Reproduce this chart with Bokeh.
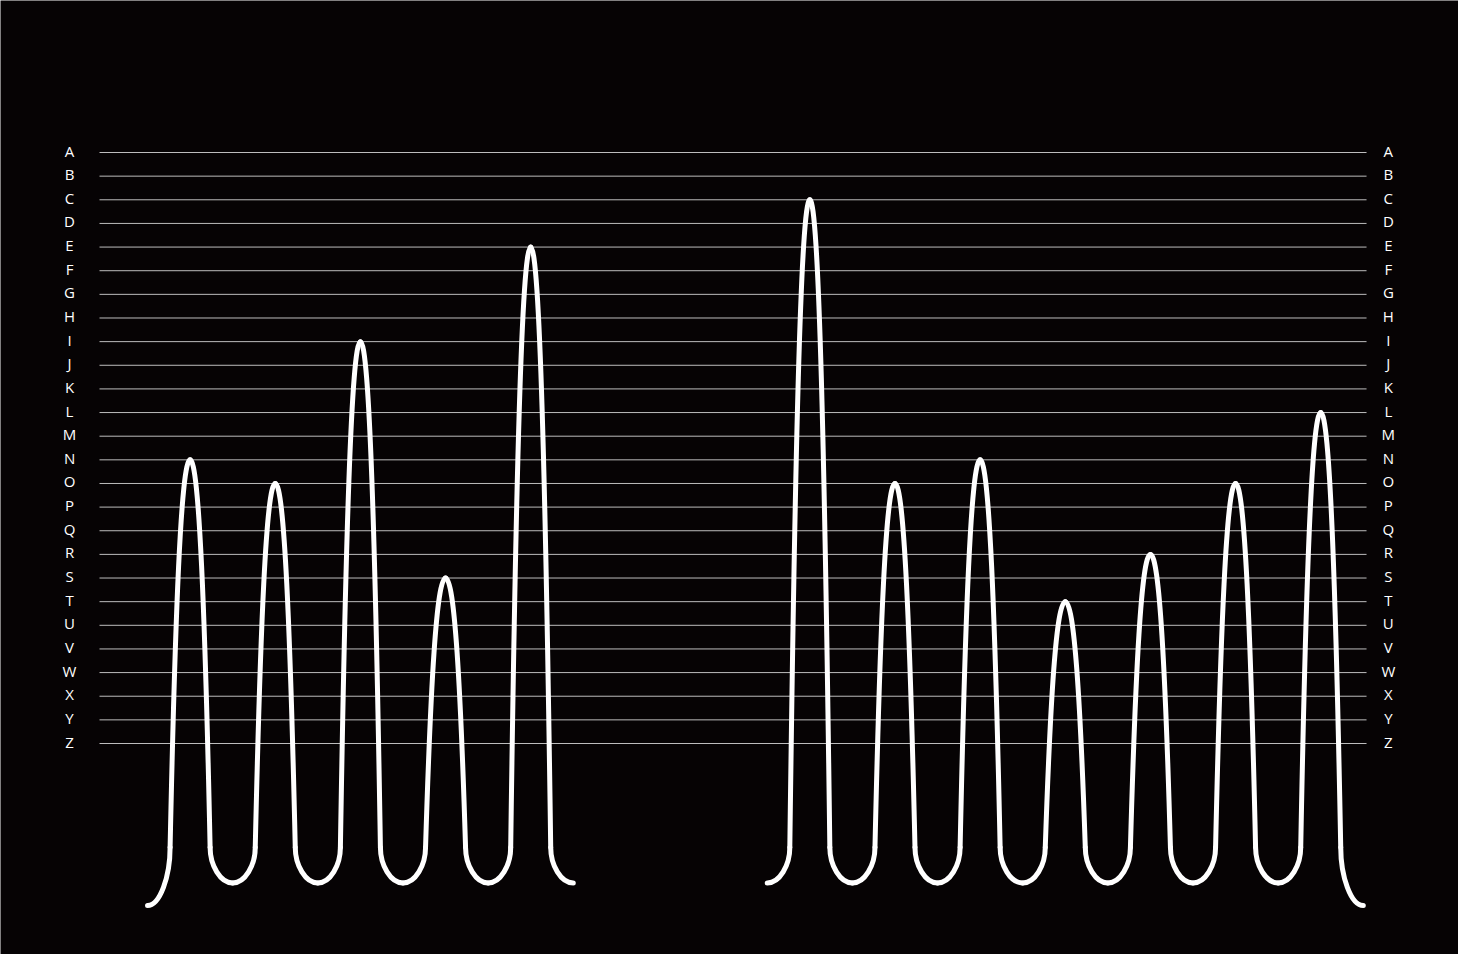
from bokeh.plotting import figure
from bokeh.models import ColumnDataSource, Range1d
from bokeh.core.properties import value
from bokeh.embed import file_html
from bokeh.resources import INLINE

# letters on the scale, A at the top
letters = [chr(ord("A") + i) for i in range(26)]

# each word is drawn as a row of peaks, one peak per letter
word_1 = "NOISE"
word_2 = "CONTROL"

# which end of each word dips below the valleys
word_1_low_end = "left"
word_2_low_end = "right"

# layout (x in letter slots, y in scale steps, A = 0)
word_1_start = 0.0
word_2_start = 7.278
grid_x0, grid_x1 = -1.064, 13.816
label_left_x, label_right_x = -1.416, 14.072

y_side_end = 29.40   # where a flank turns into the valley
y_valley = 30.90
y_low = 31.85

half_w = 0.235       # flank half width where it meets the valley
c1_dx, c2_dx, c2_s = 0.106, 0.176, 0.4
k1, k2 = 0.5, 0.55

bg = "#060304"


def word_segments(word, x_start, low_end):
    seg = dict(x0=[], y0=[], x1=[], y1=[], cx0=[], cy0=[], cx1=[], cy1=[])

    def add(a, b, c, d):
        seg["x0"].append(a[0]); seg["y0"].append(a[1])
        seg["cx0"].append(b[0]); seg["cy0"].append(b[1])
        seg["cx1"].append(c[0]); seg["cy1"].append(c[1])
        seg["x1"].append(d[0]); seg["y1"].append(d[1])

    n = len(word)
    for k, ch in enumerate(word):
        xp = x_start + k
        yp = letters.index(ch)
        for d in (-1, 1):
            if d == -1 and k == 0:
                yb = y_low if low_end == "left" else y_valley
            elif d == 1 and k == n - 1:
                yb = y_low if low_end == "right" else y_valley
            else:
                yb = y_valley
            # flank: peak down to valley start
            add((xp, yp), (xp + d * c1_dx, yp),
                (xp + d * c2_dx, yp + c2_s * (y_side_end - yp)),
                (xp + d * half_w, y_side_end))
            # round bottom of the valley
            add((xp + d * half_w, y_side_end),
                (xp + d * half_w, y_side_end + k1 * (yb - y_side_end)),
                (xp + d * (0.5 - k2 * (0.5 - half_w)), yb),
                (xp + d * 0.5, yb))
    return seg


p = figure(width=1458, height=954, output_backend="svg", toolbar_location=None,
           x_axis_location=None, y_axis_location=None, min_border=0,
           x_range=Range1d(-2.2267, 14.896), y_range=Range1d(33.925, -6.430))
p.background_fill_color = bg
p.border_fill_color = bg
p.outline_line_color = None
p.grid.grid_line_color = None

ys = list(range(len(letters)))
p.segment(x0=[grid_x0] * 26, x1=[grid_x1] * 26, y0=ys, y1=ys,
          line_color="#bdbdbd", line_width=1)

for x in (label_left_x, label_right_x):
    p.text(x=[x] * 26, y=ys, text=letters, text_color="white",
           text_font=value("Open Sans"), text_font_size="15px",
           text_align="center", text_baseline="middle", y_offset=-2)

for word, start, low in ((word_1, word_1_start, word_1_low_end),
                         (word_2, word_2_start, word_2_low_end)):
    src = ColumnDataSource(word_segments(word, start, low))
    p.bezier(x0="x0", y0="y0", x1="x1", y1="y1", cx0="cx0", cy0="cy0",
             cx1="cx1", cy1="cy1", source=src, line_color="white",
             line_width=5, line_cap="round")

open("out.html", "w").write(file_html(p, INLINE))
